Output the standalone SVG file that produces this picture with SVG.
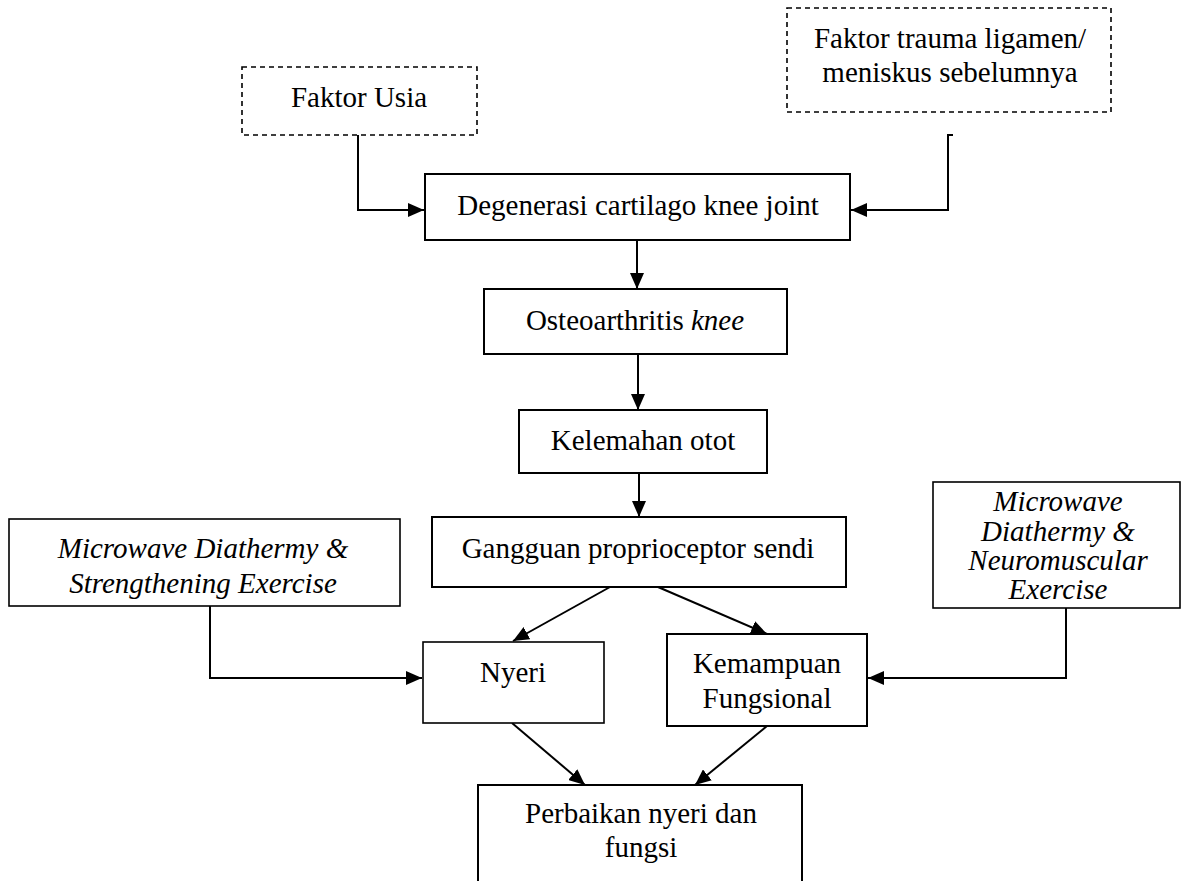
<svg xmlns="http://www.w3.org/2000/svg" width="1188" height="881" viewBox="0 0 1188 881">
<defs>
<marker id="ah" markerUnits="userSpaceOnUse" markerWidth="16" markerHeight="14" refX="16" refY="7" orient="auto">
<path d="M0,0 L16,7 L0,14 z" fill="#000"/>
</marker>
<style>
.box{fill:#fff;stroke:#000;stroke-width:2}
.thin{fill:#fff;stroke:#000;stroke-width:1.6}
.dash{fill:#fff;stroke:#000;stroke-width:1.6;stroke-dasharray:5 4}
.t{font-family:"Liberation Serif","Times New Roman",serif;font-size:29px;fill:#000;text-anchor:middle}
.i{font-style:italic}
.c{fill:none;stroke:#000;stroke-width:2;marker-end:url(#ah)}
</style>
</defs>
<rect width="1188" height="881" fill="#fff"/>
<g id="connectors">
<path class="c" d="M358,135 V210 H424"/>
<path class="c" style="marker-end:none" d="M953,135 H948 V210 H866"/>
<path class="c" d="M948,210 H851"/>
<path class="c" d="M637,240 V289"/>
<path class="c" d="M638,354 V410"/>
<path class="c" d="M639,473 V517"/>
<path class="c" d="M610,587 L513,641"/>
<path class="c" d="M658,587 L767,634"/>
<path class="c" d="M210,606 V678 H422"/>
<path class="c" d="M1066,608 V678 H868"/>
<path class="c" d="M512,723 L585,785"/>
<path class="c" d="M767,726 L695,785"/>
</g>
<g id="faktor-usia">
<rect class="dash" x="242" y="67" width="235" height="68"/>
<text class="t" x="359" y="107">Faktor Usia</text>
</g>
<g id="faktor-trauma">
<rect class="dash" x="787" y="8" width="324" height="104"/>
<text class="t" x="950" y="48">Faktor trauma ligamen/</text>
<text class="t" x="950" y="82">meniskus sebelumnya</text>
</g>
<g id="degenerasi">
<rect class="box" x="425" y="174" width="425" height="66"/>
<text class="t" x="638" y="215">Degenerasi cartilago knee joint</text>
</g>
<g id="osteoarthritis">
<rect class="box" x="484" y="289" width="303" height="65"/>
<text class="t" x="635" y="330">Osteoarthritis <tspan class="i">knee</tspan></text>
</g>
<g id="kelemahan">
<rect class="box" x="519" y="410" width="248" height="63"/>
<text class="t" x="643" y="450">Kelemahan otot</text>
</g>
<g id="gangguan">
<rect class="box" x="432" y="517" width="414" height="70"/>
<text class="t" x="638" y="558">Gangguan proprioceptor sendi</text>
</g>
<g id="mwd-strengthening">
<rect class="thin" x="9" y="519" width="391" height="87"/>
<text class="t i" x="203" y="558">Microwave Diathermy &amp;</text>
<text class="t i" x="203" y="593">Strengthening Exercise</text>
</g>
<g id="mwd-neuromuscular">
<rect class="thin" x="933" y="482" width="247" height="126"/>
<text class="t i" x="1058" y="511">Microwave</text>
<text class="t i" x="1058" y="541">Diathermy &amp;</text>
<text class="t i" x="1058" y="570">Neuromuscular</text>
<text class="t i" x="1058" y="599">Exercise</text>
</g>
<g id="nyeri">
<rect class="thin" x="423" y="642" width="181" height="81"/>
<text class="t" x="513" y="682">Nyeri</text>
</g>
<g id="kemampuan">
<rect class="box" x="667" y="634" width="200" height="92"/>
<text class="t" x="767" y="673">Kemampuan</text>
<text class="t" x="767" y="708">Fungsional</text>
</g>
<g id="perbaikan">
<rect class="box" x="478" y="785" width="324" height="110"/>
<text class="t" x="641" y="823">Perbaikan nyeri dan</text>
<text class="t" x="641" y="857">fungsi</text>
</g>
</svg>
